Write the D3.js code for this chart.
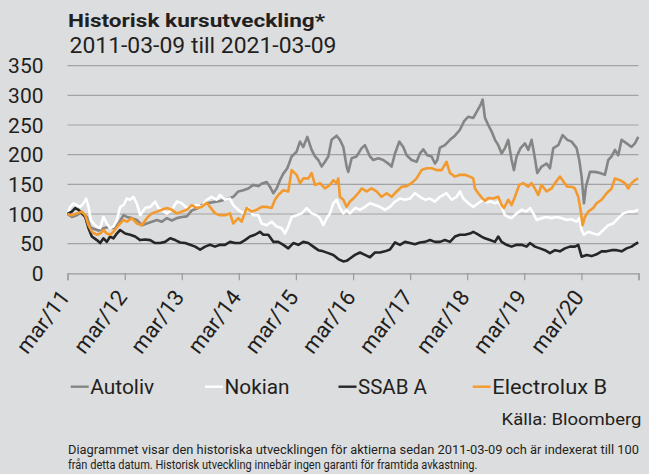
<!DOCTYPE html>
<html><head><meta charset="utf-8">
<script src="https://cdn.jsdelivr.net/npm/d3@7"></script>
<style>
html,body{margin:0;padding:0;background:#dcdddf;}
svg{display:block;font-family:Roboto,"Noto Sans",sans-serif;}
</style></head>
<body><svg id="c" width="649" height="474"></svg>
<script>
// ---- data (years since 2011-03-09, indexed value) ----
const startDate = "2011-03-09";
const yTicks = [0,50,100,150,200,250,300,350];
const xTickLabels = ["mar/11","mar/12","mar/13","mar/14","mar/15","mar/16","mar/17","mar/18","mar/19","mar/20",""];
const seriesNames = ["Autoliv","Nokian","SSAB A","Electrolux B"];
const seriesColors = ["#858585","#ffffff","#262626","#f39a2e"];

const autolivT = [0,0.076,0.163,0.251,0.339,0.397,0.455,0.543,0.630,0.718,0.806,0.893,0.981,1.039,1.127,1.214,1.302,1.389,1.477,1.565,1.652,1.740,1.827,1.915,2.002,2.090,2.177,2.265,2.353,2.440,2.554,2.671,2.788,2.904,2.992,3.079,3.167,3.255,3.342,3.400,3.488,3.546,3.605,3.663,3.722,3.780,3.850,3.926,4.013,4.072,4.130,4.200,4.276,4.335,4.393,4.451,4.510,4.568,4.626,4.714,4.772,4.831,4.889,4.918,4.977,5.064,5.152,5.210,5.298,5.356,5.444,5.531,5.619,5.677,5.736,5.811,5.881,5.940,6.027,6.115,6.173,6.232,6.302,6.378,6.436,6.477,6.524,6.611,6.699,6.786,6.874,6.944,7.020,7.107,7.166,7.236,7.271,7.312,7.370,7.429,7.487,7.545,7.604,7.662,7.720,7.779,7.820,7.866,7.936,8.012,8.071,8.129,8.187,8.228,8.304,8.392,8.450,8.509,8.596,8.672,8.754,8.830,8.917,8.964,9.005,9.046,9.081,9.151,9.238,9.326,9.413,9.472,9.530,9.589,9.647,9.705,9.793,9.880,9.939,9.997];
const autolivV = [100,95,98,103,95,78,75,72,76,78,76,84,98,95,93,90,81,84,87,90,87,93,89,93,95,96,106,109,115,118,120,122,125,129,138,140,143,149,147,151,154,146,135,143,157,168,177,197,205,222,213,230,208,197,191,180,188,197,225,232,225,213,180,171,194,197,211,216,197,191,194,191,185,180,202,222,213,199,191,188,202,209,199,197,185,191,212,216,225,232,242,256,264,262,272,284,293,262,250,239,225,216,202,211,225,191,174,197,211,219,208,225,194,169,180,185,177,211,216,233,225,222,211,191,163,118,146,171,171,169,166,191,197,208,199,225,219,213,219,230];

const nokianT = [0,0.047,0.105,0.163,0.222,0.280,0.327,0.368,0.409,0.455,0.514,0.572,0.630,0.689,0.747,0.806,0.864,0.923,0.981,1.039,1.097,1.156,1.214,1.273,1.360,1.448,1.535,1.594,1.652,1.740,1.827,1.915,2.002,2.090,2.177,2.265,2.353,2.440,2.525,2.612,2.671,2.758,2.846,2.904,2.992,3.079,3.167,3.255,3.342,3.400,3.488,3.576,3.663,3.751,3.809,3.867,3.926,4.013,4.101,4.189,4.276,4.364,4.422,4.480,4.539,4.597,4.656,4.714,4.772,4.831,4.889,4.947,5.035,5.123,5.210,5.298,5.385,5.473,5.560,5.648,5.736,5.823,5.911,5.998,6.086,6.173,6.261,6.349,6.436,6.524,6.640,6.728,6.816,6.874,6.932,7.020,7.107,7.195,7.283,7.341,7.429,7.487,7.545,7.604,7.662,7.720,7.779,7.866,7.954,8.041,8.100,8.158,8.217,8.304,8.392,8.479,8.567,8.654,8.742,8.830,8.917,8.964,9.005,9.046,9.121,9.209,9.297,9.384,9.472,9.559,9.647,9.735,9.822,9.910,9.997];
const nokianV = [100,112,118,115,112,118,126,112,90,84,79,76,95,84,76,79,90,112,115,126,124,129,118,98,110,112,121,110,107,101,107,121,118,110,112,115,112,124,129,124,132,124,126,115,107,101,110,98,98,84,81,87,79,76,67,79,95,98,101,110,101,98,93,81,93,101,118,124,110,101,107,101,110,107,112,118,115,112,107,112,121,126,124,126,135,129,124,126,121,129,135,124,129,138,126,118,112,118,124,120,121,118,121,112,98,95,93,101,107,104,110,101,90,93,95,93,95,93,90,91,87,93,73,65,70,67,65,73,81,84,93,101,104,104,107];

const ssabT = [0,0.076,0.134,0.193,0.251,0.309,0.368,0.426,0.514,0.572,0.630,0.689,0.747,0.806,0.864,0.922,1.010,1.097,1.185,1.273,1.360,1.448,1.535,1.623,1.710,1.798,1.886,1.973,2.061,2.148,2.236,2.323,2.411,2.496,2.583,2.671,2.758,2.846,2.933,3.021,3.109,3.196,3.284,3.371,3.430,3.517,3.605,3.692,3.780,3.867,3.955,4.043,4.130,4.218,4.305,4.393,4.480,4.568,4.656,4.743,4.831,4.889,4.947,5.035,5.123,5.210,5.298,5.385,5.473,5.560,5.648,5.736,5.823,5.911,5.998,6.086,6.173,6.261,6.349,6.436,6.524,6.611,6.699,6.786,6.874,6.962,7.049,7.107,7.166,7.253,7.312,7.399,7.487,7.545,7.604,7.691,7.779,7.866,7.954,8.041,8.100,8.187,8.275,8.363,8.450,8.538,8.625,8.713,8.800,8.888,8.946,9.005,9.092,9.180,9.267,9.355,9.443,9.530,9.618,9.705,9.793,9.880,9.939,9.997];
const ssabV = [100,104,110,107,101,95,76,62,56,51,59,53,62,59,67,73,67,65,62,56,57,56,51,51,53,59,56,52,51,48,45,40,45,48,45,48,48,53,51,51,56,62,65,70,65,65,53,53,48,42,51,48,53,51,45,39,37,34,31,24,20,21,25,31,35,31,27,35,35,37,40,52,48,53,51,49,52,53,56,53,53,56,53,62,65,65,67,70,67,62,59,56,53,62,53,48,45,48,48,45,51,45,42,39,34,39,37,42,45,45,48,28,31,29,32,37,37,39,39,37,42,45,49,52];

const electroluxT = [0,0.076,0.163,0.251,0.309,0.368,0.426,0.514,0.572,0.630,0.689,0.747,0.806,0.893,0.981,1.039,1.127,1.214,1.302,1.389,1.477,1.565,1.652,1.740,1.827,1.915,2.002,2.090,2.177,2.265,2.353,2.440,2.496,2.583,2.671,2.758,2.846,2.904,2.992,3.050,3.138,3.225,3.313,3.400,3.488,3.576,3.634,3.692,3.780,3.867,3.926,4.013,4.072,4.130,4.218,4.276,4.335,4.422,4.510,4.597,4.656,4.714,4.743,4.772,4.831,4.889,4.947,5.006,5.093,5.152,5.239,5.327,5.414,5.502,5.590,5.677,5.765,5.852,5.940,6.027,6.115,6.203,6.290,6.378,6.465,6.553,6.640,6.699,6.786,6.874,6.962,7.049,7.107,7.137,7.195,7.253,7.312,7.370,7.458,7.545,7.604,7.645,7.720,7.779,7.837,7.913,7.983,8.071,8.129,8.187,8.246,8.304,8.392,8.479,8.538,8.625,8.684,8.754,8.830,8.888,8.946,8.987,9.022,9.063,9.121,9.209,9.267,9.355,9.443,9.530,9.589,9.676,9.764,9.822,9.880,9.939,9.997];
const electroluxV = [100,98,101,104,98,81,70,65,67,73,67,65,70,81,90,87,93,84,81,93,101,104,107,110,107,101,104,107,115,110,112,119,112,101,98,98,101,84,93,87,110,104,107,112,112,110,124,132,140,138,174,166,152,160,160,169,149,152,143,149,157,152,160,129,124,112,121,126,135,143,138,143,138,129,135,129,138,146,147,152,160,174,177,177,174,174,188,169,163,166,166,163,160,143,135,128,122,127,126,129,115,110,124,115,129,149,152,146,152,143,132,149,138,143,152,163,155,146,146,143,129,107,81,95,104,110,118,124,135,143,160,157,152,143,152,157,160];

const seriesT = [autolivT, nokianT, ssabT, electroluxT];
const seriesV = [autolivV, nokianV, ssabV, electroluxV];

// ---- chart ----
const svg = d3.select("#c");
const t0 = new Date(startDate + "T00:00:00");
const toDate = yrs => new Date(t0.getTime() + yrs * 365.25 * 864e5);
const tickDates = d3.range(11).map(i => new Date(2011 + i, 2, 9));

const x = d3.scaleTime().domain([t0, new Date(2021, 2, 9)]).range([67.5, 638.5]);
const y = d3.scaleLinear().domain([0, 350]).range([273.3, 65.7]);

// fit a text horizontally to a target width by scaling
function fit(sel, px, py, w) {
  sel.attr("x", 0).attr("y", 0);
  const n = sel.node().getComputedTextLength();
  sel.attr("transform", `translate(${px},${py}) scale(${w / n},1)`);
  return sel;
}

// gridlines
svg.append("g").selectAll("line").data(yTicks.filter(v => v > 0)).join("line")
  .attr("x1", 67.5).attr("x2", 638.5)
  .attr("y1", d => y(d)).attr("y2", d => y(d))
  .attr("stroke", "#a3a3a5").attr("stroke-width", 1.2);

// y labels
svg.append("g").selectAll("text").data(yTicks).join("text")
  .attr("x", 43.5).attr("y", d => y(d)).attr("dy", "0.36em")
  .attr("text-anchor", "end").attr("font-size", 21).attr("fill", "#231f20")
  .text(d => d);

// x axis
const xAxis = d3.axisBottom(x).tickValues(tickDates).tickSize(7)
  .tickFormat((d, i) => xTickLabels[i]);
const gx = svg.append("g").attr("transform", `translate(0,${y(0)})`).call(xAxis);
gx.select(".domain").attr("stroke", "#9a9a9c").attr("stroke-width", 1.2);
gx.selectAll(".tick line").attr("stroke", "#9a9a9c").attr("stroke-width", 1.2);
gx.selectAll(".tick text")
  .attr("font-family", "Roboto, sans-serif").attr("font-size", 22).attr("fill", "#231f20")
  .attr("text-anchor", "end").attr("x", 0).attr("y", 0).attr("dy", 0)
  .attr("transform", "translate(3,24) rotate(-53)");

// lines
const line = d3.line().x(d => x(d[0])).y(d => y(d[1]));
seriesNames.forEach((name, i) => {
  const pts = d3.zip(seriesT[i], seriesV[i]).map(([t, v]) => [toDate(t), v]);
  svg.append("path").datum(pts).attr("d", line)
    .attr("fill", "none").attr("stroke", seriesColors[i])
    .attr("stroke-width", 2.6).attr("stroke-linejoin", "round");
});

// title
fit(svg.append("text").attr("font-size", 19).attr("font-weight", "bold")
  .attr("fill", "#231f20").text("Historisk kursutveckling*"), 68, 26.7, 257);
fit(svg.append("text").attr("font-size", 21.5)
  .attr("fill", "#231f20").text("2011-03-09 till 2021-03-09"), 69.5, 52.7, 267);

// legend
const legendX = [70.7, 205, 338.5, 472.7];
const legendW = [64, 65, 69, 115];
seriesNames.forEach((name, i) => {
  svg.append("line").attr("x1", legendX[i]).attr("x2", legendX[i] + 18)
    .attr("y1", 386.7).attr("y2", 386.7)
    .attr("stroke", seriesColors[i]).attr("stroke-width", 2.4);
  fit(svg.append("text").attr("font-size", 20).attr("fill", "#231f20").text(name),
      legendX[i] + 19.5, 394, legendW[i]);
});

// source
fit(svg.append("text").attr("text-anchor", "end")
  .attr("font-size", 17).attr("fill", "#231f20").text("Källa: Bloomberg"), 641.5, 425, 140);

// footnote
fit(svg.append("text").attr("font-size", 12.8).attr("fill", "#231f20")
  .text("Diagrammet visar den historiska utvecklingen för aktierna sedan 2011-03-09 och är indexerat till 100"),
  68, 454, 571);
fit(svg.append("text").attr("font-size", 12.8).attr("fill", "#231f20")
  .text("från detta datum. Historisk utveckling innebär ingen garanti för framtida avkastning."),
  68, 468.5, 410);
</script></body></html>
